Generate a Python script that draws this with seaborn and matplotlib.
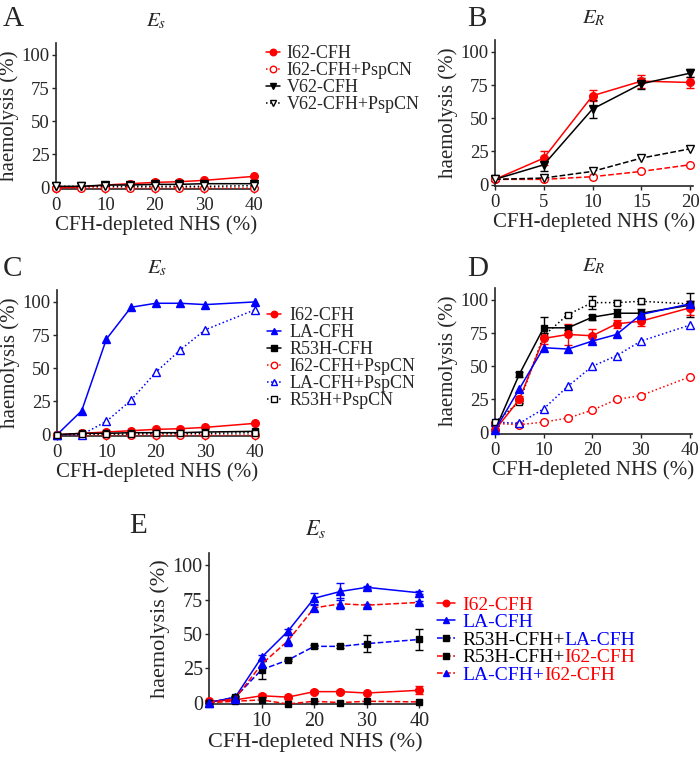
import seaborn as sns
import numpy as np
import matplotlib.pyplot as plt

# x values (CFH-depleted NHS %)
x8 = [0, 5, 10, 15, 20, 25, 30, 40]
x5 = [0, 5, 10, 15, 20]

# panel A (Es)
a_i62 = [0, 0.5, 2, 3, 4, 4.5, 5.5, 8.5]
a_i62_psp = [0, 0, 0, 0, 0, 0, 0, 0]
a_v62 = [1, 1, 2, 2, 2.5, 2.5, 3, 3]
a_v62_psp = [1, 1, 1, 1, 1, 1, 1, 1.5]

# panel B (ER)
b_i62 = [4, 20, 67, 78, 77]
b_i62_err = [1, 5, 4, 5, 4]
b_v62 = [4, 15, 57, 76, 84]
b_v62_err = [1, 5, 7, 4, 3]
b_i62_psp = [4, 4, 6, 10, 15]
b_v62_psp = [4, 5, 10, 20, 27]

# panel C (Es)
c_i62 = [0, 1, 2, 3, 4, 4.5, 5.5, 8.5]
c_la = [0, 18, 72, 96, 99, 99, 98, 100]
c_r53h = [0, 1, 1, 1.5, 1.5, 1.5, 2, 2.5]
c_i62_psp = [0, 0, 0, 0, 0, 0, 0, 0]
c_la_psp = [0, 0, 10, 26, 47, 64, 79, 94]
c_r53h_psp = [0, 0.5, 0.5, 0.5, 1, 1, 1, 1.5]

# panel D (ER)
d_i62 = [2, 25, 71, 74, 73, 82, 84, 94]
d_i62_err = [0, 3, 4, 8, 5, 3, 4, 5]
d_la = [2, 33, 64, 63, 69, 74, 89, 97]
d_r53h = [2, 44, 79, 79, 87, 90, 90, 96]
d_r53h_err = [0, 2, 8, 2, 2, 3, 3, 9]
d_i62_psp = [7, 6, 8, 11, 17, 25, 28, 42]
d_la_psp = [8, 7, 18, 35, 50, 58, 69, 81]
d_r53h_psp = [8, 23, 73, 89, 98, 98, 99, 97]
d_r53h_psp_err = [0, 1, 2, 1, 5, 2, 2, 2]

# panel E (Es)
e_i62 = [1, 2, 5, 4, 8, 8, 7, 9]
e_i62_err = [0, 0, 1, 1, 1, 1, 1, 3]
e_la = [0, 4, 33, 52, 76, 81, 84, 80]
e_la_err = [0, 1, 2, 2, 4, 6, 1, 1]
e_r53h_la = [0, 4, 24, 31, 41, 41, 43, 46]
e_r53h_la_err = [0, 1, 7, 1, 1, 1, 6, 8]
e_r53h_i62 = [0, 1, 2, -1, 1, 0, 1, 0.5]
e_la_i62 = [0, 3, 28, 45, 69, 72, 71, 73]
e_la_i62_err = [0, 1, 2, 4, 2, 4, 1, 1]

RED = '#ff0000'
BLUE = '#0000ff'
BLACK = 'black'

sns.set_style('ticks')
plt.rcParams['font.family'] = ['Liberation Serif', 'DejaVu Serif']
plt.rcParams['mathtext.fontset'] = 'stix'

W, H = 700, 758
fig = plt.figure(figsize=(7, 7.58), dpi=100)


def add_ax(left, right, bottom, top):
    # pixel box -> figure fraction
    return fig.add_axes([left / W, 1 - bottom / H, (right - left) / W, (bottom - top) / H])


def draw(ax, x, y, color, marker, ls, filled=True, err=None, lc=None, label=None, ms=5.5):
    lc = lc or color
    if marker == 's':
        ms -= 0.5
    sns.lineplot(x=x, y=y, ax=ax, color=lc, linestyle=ls, linewidth=1.1,
                 marker=marker, markersize=ms,
                 markerfacecolor=color if filled else 'white',
                 markeredgecolor=color, markeredgewidth=1.0,
                 label=label, clip_on=False, errorbar=None, zorder=3)
    if err is not None:
        ax.errorbar(x, y, yerr=err, fmt='none', ecolor=color, elinewidth=1.0,
                    capsize=3, capthick=1.0, clip_on=False, zorder=2)


def style(ax, xmax, xticks, fs=13.5, lfs=15):
    ax.set_xlim(0, xmax)
    ax.set_ylim(-1, 109)
    ax.set_xticks(xticks)
    ax.set_yticks([0, 25, 50, 75, 100])
    ax.tick_params(labelsize=fs, length=3, width=1, pad=1.5)
    ax.tick_params(axis='x', pad=3)
    ax.set_xlabel('CFH-depleted NHS (%)', fontsize=lfs, labelpad=1)
    ax.set_ylabel('haemolysis (%)', fontsize=lfs, labelpad=2)
    sns.despine(ax=ax)
    for s in ['left', 'bottom']:
        ax.spines[s].set_linewidth(1.2)


def legend(ax, x0, y0, fs=13, hl=0.8, tp=0.35):
    leg = ax.legend(loc='upper left', bbox_to_anchor=(x0 / W, 1 - y0 / H),
                    bbox_transform=fig.transFigure, frameon=False, fontsize=fs,
                    borderpad=0, borderaxespad=0, labelspacing=0.0,
                    handlelength=hl, handletextpad=tp, markerscale=0.85)
    return leg


# ---- A ----
axA = add_ax(56, 256, 189, 43)
draw(axA, x8, a_i62, RED, 'o', '-', label='I62-CFH')
draw(axA, x8, a_i62_psp, RED, 'o', ':', filled=False, label='I62-CFH+PspCN')
draw(axA, x8, a_v62, BLACK, 'v', '-', label='V62-CFH')
draw(axA, x8, a_v62_psp, BLACK, 'v', ':', filled=False, label='V62-CFH+PspCN')
style(axA, 40.5, [0, 10, 20, 30, 40])
axA.set_title('$E_s$', fontsize=15, pad=12)
legend(axA, 266, 45)

# ---- B ----
axB = add_ax(495, 693, 186, 40)
draw(axB, x5, b_i62, RED, 'o', '-', err=b_i62_err)
draw(axB, x5, b_v62, BLACK, 'v', '-', err=b_v62_err)
draw(axB, x5, b_i62_psp, RED, 'o', '--', filled=False)
draw(axB, x5, b_v62_psp, BLACK, 'v', '--', filled=False)
style(axB, 20.3, [0, 5, 10, 15, 20])
axB.set_title('$E_R$', fontsize=15, pad=12)

# ---- C ----
axC = add_ax(57, 257, 436, 290)
draw(axC, x8, c_i62, RED, 'o', '-', label='I62-CFH')
draw(axC, x8, c_la, BLUE, '^', '-', label='LA-CFH')
draw(axC, x8, c_r53h, BLACK, 's', '-', label='R53H-CFH')
draw(axC, x8, c_i62_psp, RED, 'o', ':', filled=False, label='I62-CFH+PspCN')
draw(axC, x8, c_la_psp, BLUE, '^', ':', filled=False, label='LA-CFH+PspCN')
draw(axC, x8, c_r53h_psp, BLACK, 's', ':', filled=False, label='R53H+PspCN')
style(axC, 40.5, [0, 10, 20, 30, 40])
axC.set_title('$E_s$', fontsize=15, pad=12)
legend(axC, 267, 307, tp=0.45)

# ---- D ----
axD = add_ax(495, 692, 434, 288)
draw(axD, x8, d_i62_psp, RED, 'o', ':', filled=False)
draw(axD, x8, d_la_psp, BLUE, '^', ':', filled=False)
draw(axD, x8, d_r53h_psp, BLACK, 's', ':', filled=False, err=d_r53h_psp_err)
draw(axD, x8, d_r53h, BLACK, 's', '-', err=d_r53h_err)
draw(axD, x8, d_i62, RED, 'o', '-', err=d_i62_err)
draw(axD, x8, d_la, BLUE, '^', '-')
style(axD, 40.5, [0, 10, 20, 30, 40])
axD.set_title('$E_R$', fontsize=15, pad=12)

# ---- E ----
axE = add_ax(209, 422, 704, 553)
draw(axE, x8, e_i62, RED, 'o', '-', err=e_i62_err, label='I62-CFH')
draw(axE, x8, e_la, BLUE, '^', '-', err=e_la_err, label='LA-CFH')
draw(axE, x8, e_r53h_la, BLACK, 's', '--', err=e_r53h_la_err, lc=BLUE, label='R53H-CFH+')
draw(axE, x8, e_r53h_i62, BLACK, 's', '--', lc=RED, label='R53H-CFH+')
draw(axE, x8, e_la_i62, BLUE, '^', '--', err=e_la_i62_err, lc=RED, label='LA-CFH+')
style(axE, 40.5, [10, 20, 30, 40], fs=14.5, lfs=16)
axE.set_title('$E_s$', fontsize=16, pad=13)
legE = legend(axE, 437, 596, fs=14, hl=0.9, tp=0.4)
texts = legE.get_texts()
text_colors = [RED, BLUE, BLACK, BLACK, BLUE]
for t, c in zip(texts, text_colors):
    t.set_color(c)
# second, differently coloured half of the mixed labels (drawn after the legend)
for t, extra, c in [(texts[2], 'LA-CFH', BLUE), (texts[3], 'I62-CFH', RED), (texts[4], 'I62-CFH', RED)]:
    axE.annotate(extra, xy=(1, 0), xycoords=t, ha='left', va='bottom',
                 fontsize=14, color=c, zorder=10)

# panel letters
for letter, px, py, fs in [('A', 3, 26, 21), ('B', 467, 26, 21), ('C', 3, 276, 21),
                           ('D', 467, 276, 21), ('E', 129, 533, 21)]:
    fig.text(px / W, 1 - py / H, letter, fontsize=fs, ha='left', va='baseline')

fig.savefig('out.png', dpi=100)
